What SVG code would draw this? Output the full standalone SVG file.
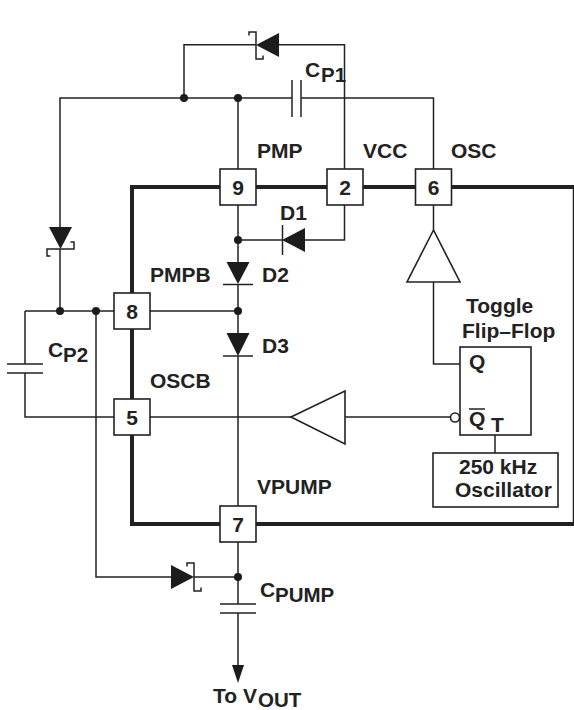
<svg xmlns="http://www.w3.org/2000/svg" width="574" height="710" viewBox="0 0 574 710">
<style>
text{font-family:"Liberation Sans",Arial,sans-serif;font-weight:700;font-size:21px;fill:#222}
.m{text-anchor:middle}
.s{font-size:20.500px}
.w,.t,.h{fill:none;stroke:#222;stroke-linejoin:miter}
.w{stroke-width:1.5}
.t{stroke-width:4}
.h{stroke-width:1.5}
.f{fill:#1c1c1c;stroke:none}
.d{fill:#1c1c1c}
.b{fill:#fff;stroke:#222;stroke-width:1.6}
.a{fill:#fff;stroke:#222;stroke-width:1.6}
</style>
<rect width="574" height="710" fill="#fff"/>
<g id="connectors">
<path class="t" d="M220 187H132V524H574M220 187H574"/>
<path class="w" d="M573.500 187V524"/>
<path class="w" d="M279 44.700H344.500V169M256 44.700H184V98M60 227V98H292M301 98H433.500V169M238 98V169M238 205V262M238 284V333M238 356V506M238 542V604M238 613V668M344.500 205V240H305M282 240H238M60 249V311H114M150 311H238M25 311H96M25 311V364M25 373V417H114M150 417H291M345 417H451M96 311V577H172M194 577H238M433.500 205V230M433.500 282V364H460M495 435V453"/>
<path class="f" d="M238 683L232 665H244Z"/>
<circle class="d" cx="184" cy="98" r="4"/><circle class="d" cx="238" cy="98" r="4"/>
<circle class="d" cx="238" cy="240" r="4"/><circle class="d" cx="238" cy="311" r="4"/>
<circle class="d" cx="60" cy="311" r="4"/><circle class="d" cx="96" cy="311" r="4"/>
<circle class="d" cx="238" cy="577" r="4"/>
</g>
<g id="pin9"><rect class="b" x="220" y="169" width="36" height="36"/><text class="m" x="238" y="194.500">9</text></g>
<g id="pin2"><rect class="b" x="327" y="169" width="36" height="36"/><text class="m" x="345" y="194.500">2</text></g>
<g id="pin6"><rect class="b" x="415.500" y="169" width="36" height="36"/><text class="m" x="433.500" y="194.500">6</text></g>
<g id="pin8"><rect class="b" x="114" y="293" width="36" height="36"/><text class="m" x="132" y="318.500">8</text></g>
<g id="pin5"><rect class="b" x="114" y="399" width="36" height="36"/><text class="m" x="132" y="424.500">5</text></g>
<g id="pin7"><rect class="b" x="220" y="506" width="36" height="36"/><text class="m" x="238" y="531.500">7</text></g>
<g id="schottky-top"><path class="f" d="M279 33V57L256 45Z"/><path class="h" d="M249 35.500V32H256V59H263V55.500"/></g>
<g id="schottky-left"><path class="f" d="M49 227H72L60.500 249Z"/><path class="h" d="M50.500 256H47V249H74V242H70.500"/></g>
<g id="schottky-bottom"><path class="f" d="M171 565V589L194 577Z"/><path class="h" d="M187 566.500V563H194V591H201V587.500"/></g>
<g id="d1"><path class="f" d="M305 228V252L282 240Z"/><path class="h" d="M282.500 225V255"/><text x="280" y="220">D1</text></g>
<g id="d2"><path class="f" d="M226.500 262H249.500L238 284Z"/><path class="h" d="M223 284.500H253"/><text x="262" y="282">D2</text></g>
<g id="d3"><path class="f" d="M226.500 333H249.500L238 356Z"/><path class="h" d="M223 356H253"/><text x="262" y="353">D3</text></g>
<g id="cp1"><path class="h" d="M292 80V117M301 80V117"/><text x="305" y="77">C</text><text class="s" x="321" y="82">P1</text></g>
<g id="cp2"><path class="h" d="M7 364H43M7 373H43"/><text x="48" y="357">C</text><text class="s" x="63" y="362">P2</text></g>
<g id="cpump"><path class="h" d="M220 604H256M220 613H256"/><text x="260" y="597">C</text><text class="s" x="275" y="602">PUMP</text></g>
<g id="buffer-osc"><path class="a" d="M433.500 230L407 282H460Z"/></g>
<g id="buffer-oscb"><path class="a" d="M291 417L345 391V444Z"/></g>
<g id="flipflop">
<rect class="b" x="460" y="347" width="71" height="88"/>
<circle class="a" cx="455" cy="417.500" r="4.500"/>
<text x="469" y="369">Q</text>
<text x="469" y="426">Q</text><path class="h" d="M469 409H485"/>
<text x="491" y="432">T</text>
<text x="466" y="313">Toggle</text>
<text x="462" y="338">Flip–Flop</text>
</g>
<g id="oscillator"><rect class="b" x="433" y="453" width="125" height="54"/><text x="459" y="474">250 kHz</text><text x="455" y="497">Oscillator</text></g>
<g id="labels">
<text x="257" y="158">PMP</text><text x="363" y="158">VCC</text><text x="451" y="158">OSC</text>
<text x="150" y="282">PMPB</text><text x="150" y="388">OSCB</text><text x="257" y="494">VPUMP</text>
<text x="213" y="703">To V</text><text class="s" x="258" y="707">OUT</text>
</g>
</svg>
